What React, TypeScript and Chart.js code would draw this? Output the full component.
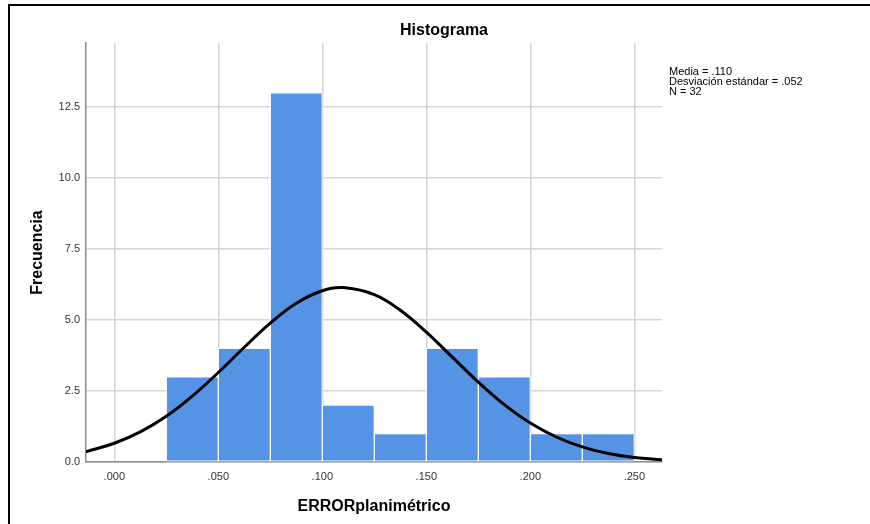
import { useEffect, useRef } from 'react';
import { Chart, registerables } from 'chart.js';

Chart.register(...registerables);

// Histogram bins (width 0.025) – centres and frequencies
const BIN_CENTERS = [0.0375, 0.0625, 0.0875, 0.1125, 0.1375, 0.1625, 0.1875, 0.2125, 0.2375];
const FREQUENCIES = [3, 4, 13, 2, 1, 4, 3, 1, 1];

// Normal curve
const CURVE_X = [-0.0136, 0, 0.0125, 0.025, 0.0375, 0.05, 0.0625, 0.075, 0.0875, 0.1, 0.11, 0.125, 0.1375, 0.15, 0.1625, 0.175, 0.1875, 0.2, 0.2125, 0.225, 0.2375, 0.25, 0.2633];
const CURVE_Y = [0.36, 0.66, 1.06, 1.61, 2.32, 3.15, 4.04, 4.89, 5.59, 6.03, 6.14, 5.89, 5.34, 4.57, 3.69, 2.81, 2.02, 1.37, 0.88, 0.53, 0.30, 0.16, 0.08];

const X_TICKS = [0, 0.05, 0.1, 0.15, 0.2, 0.25];
const Y_TICKS = [0, 2.5, 5, 7.5, 10, 12.5];
const X_MIN = -0.0136;
const X_MAX = 0.2633;
const Y_MAX = 14.75;

const TITLE = 'Histograma';
const X_TITLE = 'ERRORplanimétrico';
const Y_TITLE = 'Frecuencia';
const STATS = ['Media = .110', 'Desviación estándar = .052', 'N = 32'];

const FONT = 'Arial, "Liberation Sans", sans-serif';

const decorPlugin = {
  id: 'decor',
  afterDraw(chart: any) {
    const ctx = chart.ctx as CanvasRenderingContext2D;
    const area = chart.chartArea;
    ctx.save();
    // outer frame (top + left)
    ctx.strokeStyle = '#000';
    ctx.lineWidth = 2;
    ctx.beginPath();
    ctx.moveTo(870, 5);
    ctx.lineTo(9, 5);
    ctx.lineTo(9, 524);
    ctx.stroke();

    ctx.fillStyle = '#000';
    // title
    ctx.font = `bold 16px ${FONT}`;
    ctx.textAlign = 'center';
    ctx.textBaseline = 'alphabetic';
    ctx.fillText(TITLE, 444, 35);
    // x title
    ctx.fillText(X_TITLE, (area.left + area.right) / 2, 511);
    // y title
    ctx.save();
    ctx.translate(42, (area.top + area.bottom) / 2);
    ctx.rotate(-Math.PI / 2);
    ctx.fillText(Y_TITLE, 0, 0);
    ctx.restore();
    // stats
    ctx.font = `11px ${FONT}`;
    ctx.textAlign = 'left';
    STATS.forEach((s, i) => ctx.fillText(s, 669, 74.5 + i * 10));
    ctx.restore();
  },
};

export default function App() {
  const ref = useRef<HTMLCanvasElement | null>(null);
  useEffect(() => {
    if (!ref.current) return;
    const chart = new Chart(ref.current, {
      type: 'bar',
      data: {
        datasets: [
          {
            type: 'line',
            data: CURVE_X.map((x, i) => ({ x, y: CURVE_Y[i] })),
            borderColor: '#000',
            borderWidth: 3,
            pointRadius: 0,
            tension: 0.4,
            fill: false,
            order: 0,
          } as any,
          {
            type: 'bar',
            data: BIN_CENTERS.map((x, i) => ({ x, y: FREQUENCIES[i] })),
            backgroundColor: '#5594e4',
            borderColor: '#ffffff',
            borderWidth: 1,
            borderSkipped: false,
            barPercentage: 1,
            categoryPercentage: 1,
            order: 1,
          } as any,
        ],
      },
      options: {
        animation: false,
        responsive: false,
        devicePixelRatio: 1,
        layout: { padding: { left: 0, top: 43, right: 208, bottom: 0 } },
        plugins: { legend: { display: false }, tooltip: { enabled: false }, title: { display: false } },
        scales: {
          x: {
            type: 'linear',
            min: X_MIN,
            max: X_MAX,
            offset: false,
            afterBuildTicks: (s: any) => { s.ticks = X_TICKS.map((v) => ({ value: v })); },
            afterFit: (s: any) => { s.height = 62; },
            grid: { color: '#d6d6d6', lineWidth: 1.5, drawTicks: false, offset: false },
            border: { color: '#8c8c8c', width: 1.5 },
            ticks: {
              padding: 8,
              color: '#333',
              font: { family: FONT, size: 11 },
              maxRotation: 0,
              callback: (v: any) => Number(v).toFixed(3).replace(/^0/, ''),
            },
          },
          y: {
            type: 'linear',
            min: 0,
            max: Y_MAX,
            afterBuildTicks: (s: any) => { s.ticks = Y_TICKS.map((v) => ({ value: v })); },
            afterFit: (s: any) => { s.width = 86; },
            grid: { color: '#d6d6d6', lineWidth: 1.5, drawTicks: false },
            border: { color: '#8c8c8c', width: 1.5 },
            ticks: {
              padding: 6,
              color: '#333',
              font: { family: FONT, size: 11 },
              callback: (v: any) => Number(v).toFixed(1),
            },
          },
        },
      } as any,
      plugins: [decorPlugin],
    });
    return () => chart.destroy();
  }, []);
  return (
    <div style={{ position: 'fixed', left: 0, top: 0, width: 870, height: 524, background: '#fff' }}>
      <canvas ref={ref} width={870} height={524} style={{ display: 'block' }} />
    </div>
  );
}
